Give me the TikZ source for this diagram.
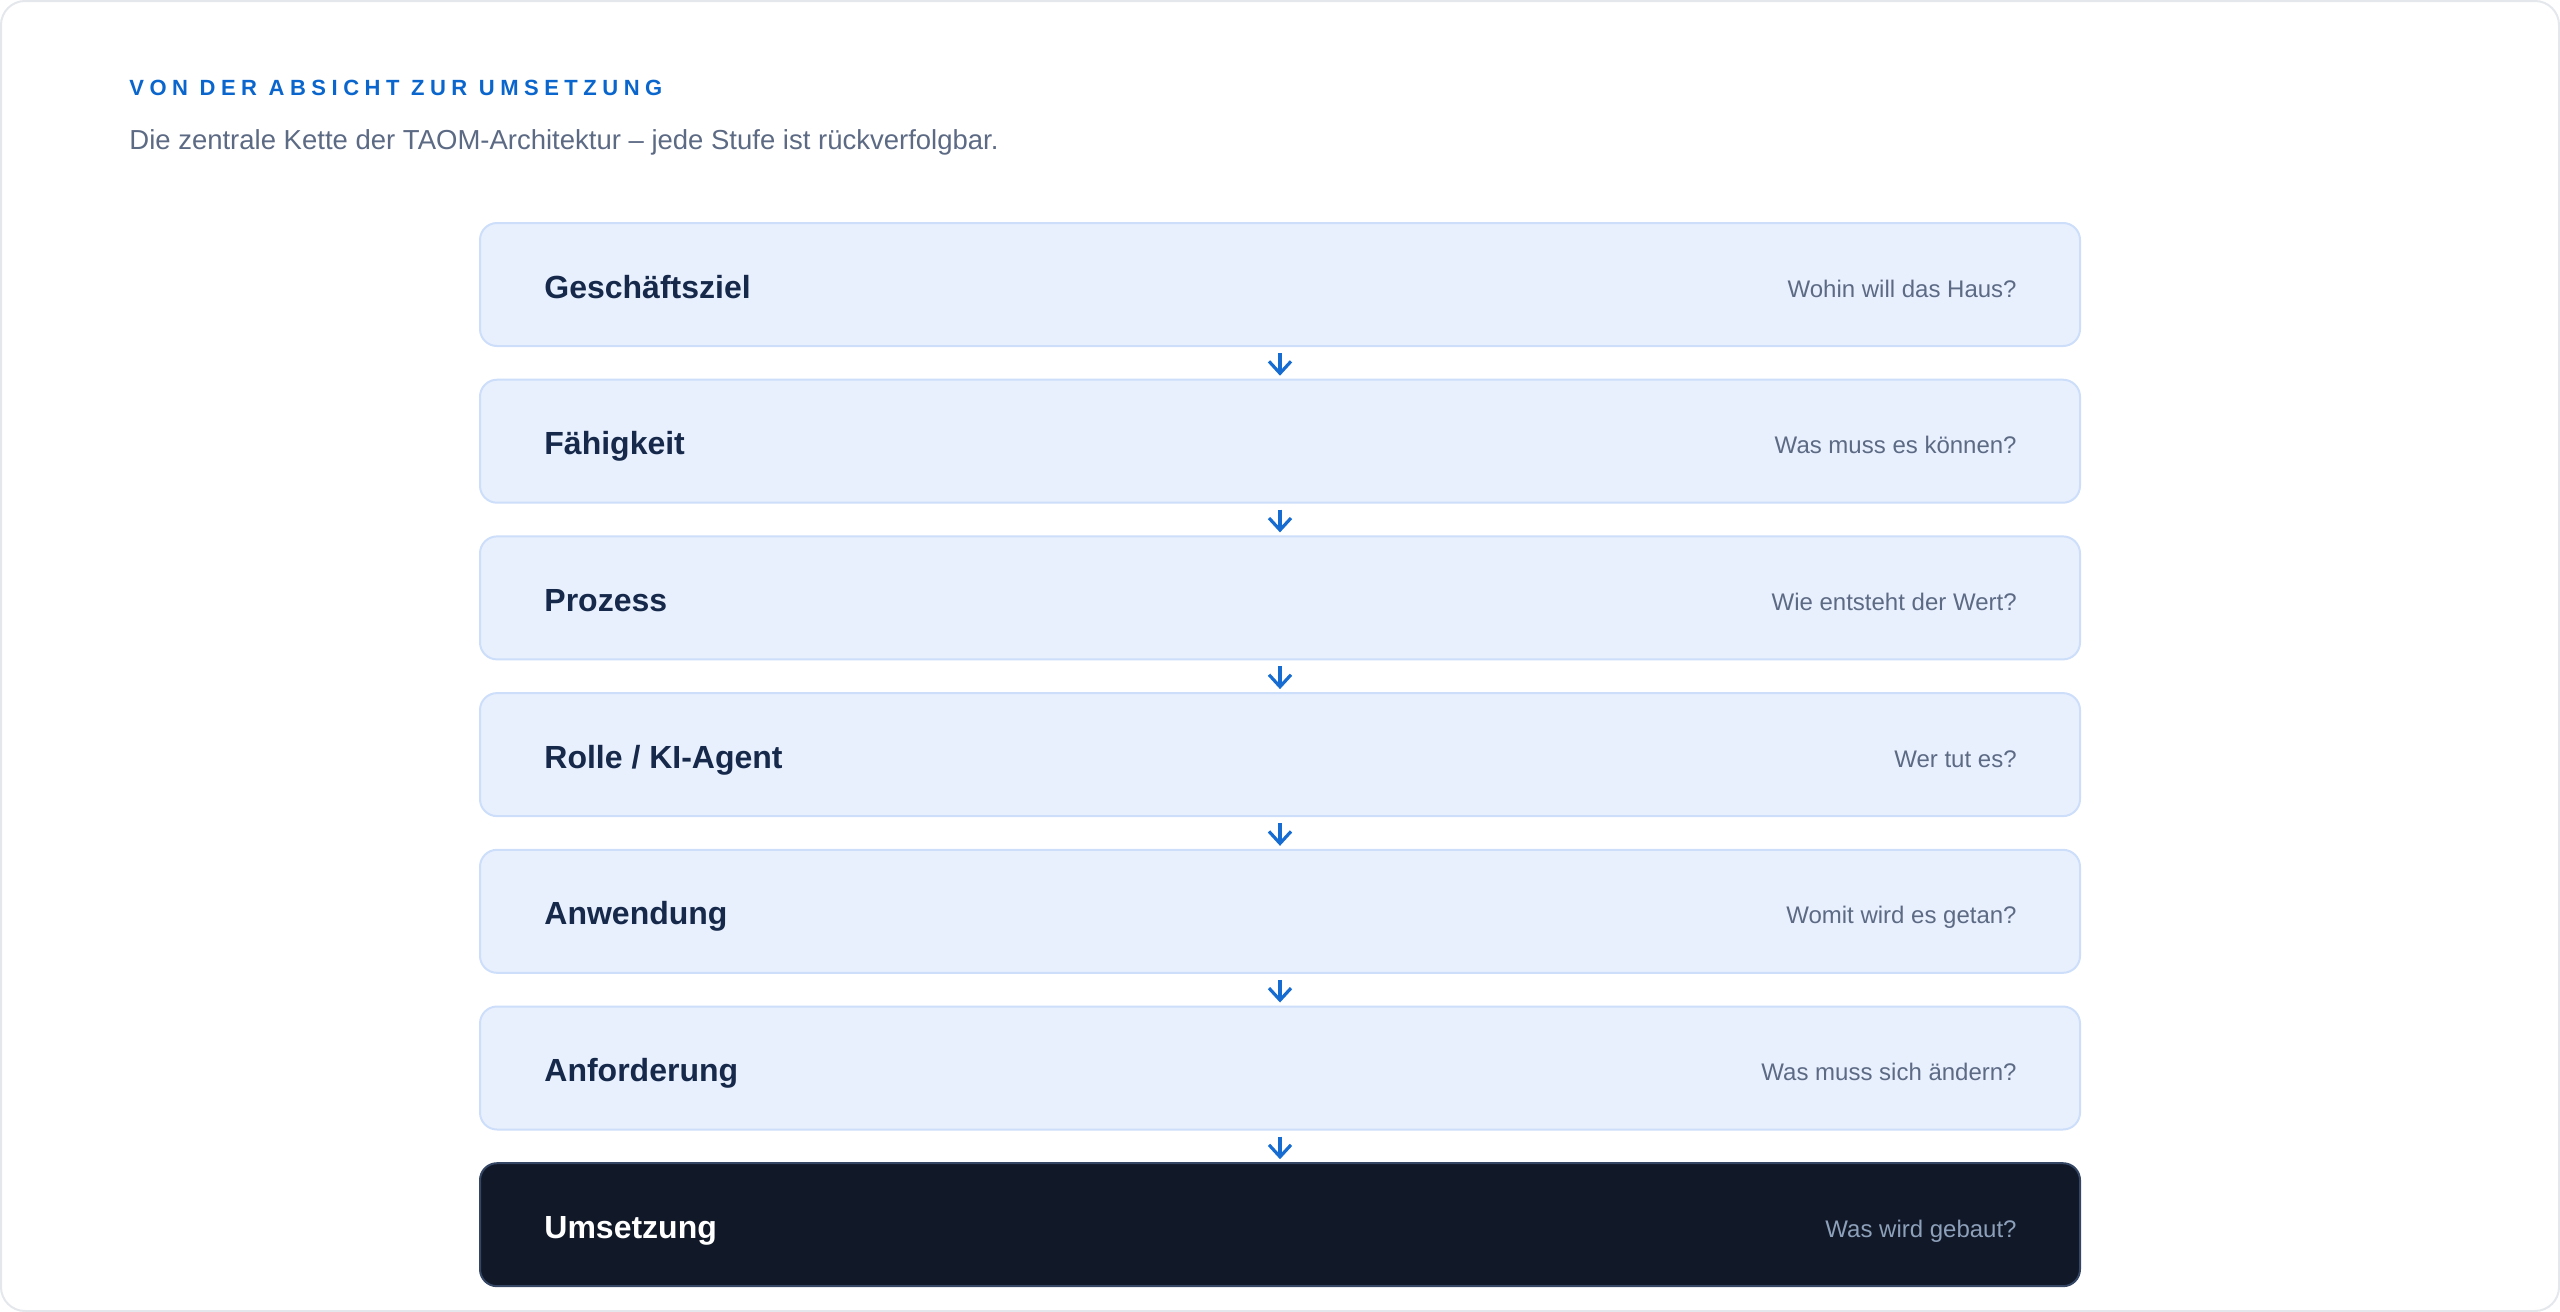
\documentclass[tikz,border=0pt]{standalone}
\usepackage{fontspec}
\setmainfont{Liberation Sans}
\usepackage{tikz}
\usetikzlibrary{arrows.meta}
\usetikzlibrary{positioning}

\definecolor{cardline}{RGB}{228,231,236}
\definecolor{titleblue}{RGB}{10,102,204}
\definecolor{subgray}{RGB}{92,106,132}
\definecolor{boxfill}{RGB}{232,240,254}
\definecolor{boxline}{RGB}{205,222,250}
\definecolor{labelnavy}{RGB}{22,41,74}
\definecolor{darkfill}{RGB}{17,24,39}
\definecolor{darkline}{RGB}{52,70,100}
\definecolor{darkq}{RGB}{141,160,186}
\definecolor{arrowblue}{RGB}{22,108,208}

\tikzset{
    stage/.style={draw=boxline, fill=boxfill, line width=1pt, rounded corners=8.5pt,
        minimum width=800pt, minimum height=61.5pt, inner sep=0pt},
    darkstage/.style={stage, draw=darkline, fill=darkfill},
    stagename/.style={anchor=base west, inner sep=0pt, text=labelnavy,
        font=\fontsize{16}{19}\selectfont\bfseries},
    stageq/.style={anchor=base east, inner sep=0pt, text=subgray,
        font=\fontsize{12}{14}\selectfont},
    chain/.style={draw=arrowblue, line width=1.6pt, shorten <=3pt, shorten >=1.5pt,
        -{Straight Barb[length=6pt, width=11pt, line width=1.6pt]}}
}

\begin{document}
\begin{tikzpicture}[x=0.5pt, y=-0.5pt]
\useasboundingbox (0,0) rectangle (2560,1312);
\draw[cardline, line width=1pt, rounded corners=12pt] (1,1) rectangle (2559,1311);

% heading
\node[anchor=base west, inner sep=0pt, text=titleblue] (title) at (129,95)
    {\fontsize{11}{13}\selectfont\bfseries\addfontfeatures{LetterSpace=25}VON DER ABSICHT ZUR UMSETZUNG};
\node[anchor=base west, inner sep=0pt, text=subgray] (sub) at (129,149)
    {\fontsize{13.75}{16}\selectfont Die zentrale Kette der TAOM-Architektur – jede Stufe ist rückverfolgbar.};

% the chain
\node[stage] (Z) at (1280,284.5) {};
\node[stage] (F) at (1280,441.2) {};
\node[stage] (P) at (1280,597.9) {};
\node[stage] (R) at (1280,754.6) {};
\node[stage] (A) at (1280,911.3) {};
\node[stage] (N) at (1280,1068) {};
\node[darkstage] (U) at (1280,1224.7) {};

\node[stagename] (z) at ([xshift=32.5pt, yshift=-6.75pt]Z.west) {Geschäftsziel};
\node[stagename] (f) at ([xshift=32.5pt, yshift=-6.75pt]F.west) {Fähigkeit};
\node[stagename] (p) at ([xshift=32.5pt, yshift=-6.75pt]P.west) {Prozess};
\node[stagename] (r) at ([xshift=32.5pt, yshift=-6.75pt]R.west) {Rolle / KI-Agent};
\node[stagename] (a) at ([xshift=32.5pt, yshift=-6.75pt]A.west) {Anwendung};
\node[stagename] (n) at ([xshift=32.5pt, yshift=-6.75pt]N.west) {Anforderung};
\node[stagename, text=white] (u) at ([xshift=32.5pt, yshift=-6.75pt]U.west) {Umsetzung};

\node[stageq] (zq) at ([xshift=-32pt, yshift=-6.25pt]Z.east) {Wohin will das Haus?};
\node[stageq] (fq) at ([xshift=-32pt, yshift=-6.25pt]F.east) {Was muss es können?};
\node[stageq] (pq) at ([xshift=-32pt, yshift=-6.25pt]P.east) {Wie entsteht der Wert?};
\node[stageq] (rq) at ([xshift=-32pt, yshift=-6.25pt]R.east) {Wer tut es?};
\node[stageq] (aq) at ([xshift=-32pt, yshift=-6.25pt]A.east) {Womit wird es getan?};
\node[stageq] (nq) at ([xshift=-32pt, yshift=-6.25pt]N.east) {Was muss sich ändern?};
\node[stageq, text=darkq] (uq) at ([xshift=-32pt, yshift=-6.25pt]U.east) {Was wird gebaut?};

\path[chain] (Z) edge (F);
\path[chain] (F) edge (P);
\path[chain] (P) edge (R);
\path[chain] (R) edge (A);
\path[chain] (A) edge (N);
\path[chain] (N) edge (U);
\end{tikzpicture}
\end{document}
